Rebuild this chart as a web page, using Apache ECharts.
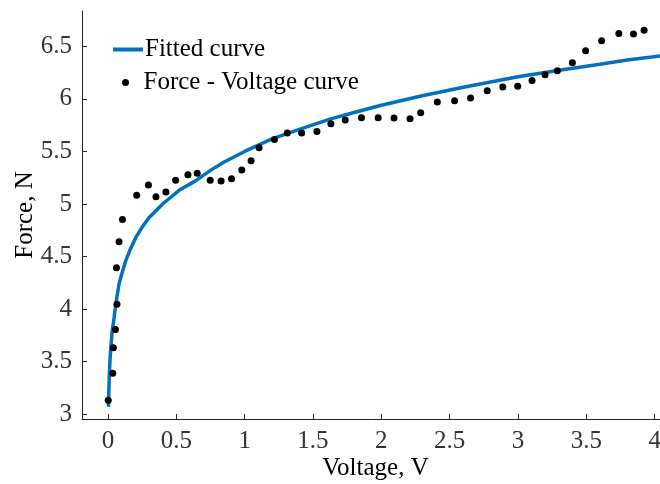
<!DOCTYPE html>
<html>
<head>
<meta charset="utf-8">
<script src="https://cdn.jsdelivr.net/npm/echarts@6/dist/echarts.min.js"></script>
<style>
  html, body { margin: 0; padding: 0; background: #fff; }
  #echarts_main { width: 660px; height: 484px; }
</style>
</head>
<body>
<div id="echarts_main"></div>
<script>
var voltage = [0.002, 0.035, 0.040, 0.055, 0.066, 0.062, 0.081, 0.106, 0.210, 0.296,
    0.351, 0.424, 0.495, 0.585, 0.653, 0.748, 0.828, 0.904, 0.979, 1.047,
    1.106, 1.218, 1.312, 1.417, 1.529, 1.631, 1.736, 1.855, 1.977, 2.093,
    2.210, 2.288, 2.410, 2.536, 2.653, 2.775, 2.889, 2.998, 3.103, 3.198,
    3.288, 3.398, 3.495, 3.612, 3.738, 3.845, 3.923];
var force = [3.133, 3.389, 3.633, 3.807, 4.047, 4.393, 4.640, 4.852, 5.083, 5.181,
    5.070, 5.115, 5.225, 5.279, 5.292, 5.225, 5.219, 5.241, 5.324, 5.412,
    5.536, 5.614, 5.675, 5.675, 5.690, 5.764, 5.800, 5.821, 5.821, 5.818,
    5.811, 5.868, 5.970, 5.983, 6.008, 6.077, 6.112, 6.121, 6.175, 6.229,
    6.267, 6.343, 6.457, 6.552, 6.621, 6.618, 6.653];

// fitted curve
var fitVoltage = [0.004, 0.006, 0.008, 0.01, 0.015, 0.02, 0.03, 0.045, 0.06, 0.081,
    0.1, 0.13, 0.16, 0.203, 0.25, 0.3, 0.4, 0.52, 0.64, 0.75,
    0.85, 1.0, 1.2, 1.4, 1.63, 1.8, 2.0, 2.3, 2.6, 3.0,
    3.29, 3.6, 3.8, 4.05, 4.11];
var fitForce = [3.07, 3.19, 3.29, 3.37, 3.52, 3.62, 3.78, 3.92, 4.07, 4.24,
    4.33, 4.46, 4.56, 4.68, 4.78, 4.87, 5.00, 5.13, 5.22, 5.32,
    5.40, 5.50, 5.62, 5.71, 5.81, 5.87, 5.94, 6.03, 6.11, 6.21,
    6.27, 6.33, 6.37, 6.41, 6.42];

var xTicks = [0, 0.5, 1, 1.5, 2, 2.5, 3, 3.5, 4];
var yTicks = [3, 3.5, 4, 4.5, 5, 5.5, 6, 6.5];

function pairs(xs, ys) {
    var out = [];
    for (var i = 0; i < xs.length; i++) {
        out.push([xs[i], ys[i]]);
    }
    return out;
}

var font = 'Liberation Serif';
var axisColor = '#262626';

function legendText(shift) {
    return {
        fontFamily: font,
        fontSize: 25,
        color: '#000',
        padding: [0, 0, 0, shift]
    };
}

myChart = echarts.init(document.getElementById('echarts_main'), null, {renderer: 'canvas'});
myChart.setOption(option = {
    backgroundColor: '#fff',
    animation: false,
    grid: {
        left: 82,
        right: -9,
        top: 11,
        bottom: 65,
        outerBoundsMode: 'none'
    },
    legend: [
        {
            // line-only key; the marker is smaller than the line width
            left: 106,
            top: 32,
            itemWidth: 30,
            itemHeight: 4,
            data: ['Fitted curve'],
            lineStyle: {width: 4},
            textStyle: legendText(-3)
        },
        {
            left: 117,
            top: 65,
            itemWidth: 30,
            itemHeight: 7,
            data: ['Force - Voltage curve'],
            textStyle: legendText(-2)
        }
    ],
    xAxis: {
        type: 'value',
        min: -0.19,
        max: 4.105,
        name: 'Voltage, V',
        nameLocation: 'middle',
        nameGap: 37,
        nameMoveOverlap: false,
        nameTextStyle: {fontFamily: font, fontSize: 25, color: '#000'},
        splitLine: {show: false},
        axisLine: {onZero: false, lineStyle: {color: axisColor, width: 1}},
        axisTick: {
            inside: true,
            length: 5,
            customValues: xTicks,
            lineStyle: {color: axisColor}
        },
        axisLabel: {
            customValues: xTicks,
            margin: 10,
            fontFamily: font,
            fontSize: 25,
            color: '#333'
        }
    },
    yAxis: {
        type: 'value',
        min: 2.955,
        max: 6.836,
        name: 'Force, N',
        nameLocation: 'middle',
        nameGap: 44,
        nameMoveOverlap: false,
        nameTextStyle: {fontFamily: font, fontSize: 25, color: '#000'},
        splitLine: {show: false},
        axisLine: {show: true, onZero: false, lineStyle: {color: axisColor, width: 1}},
        axisTick: {
            show: true,
            inside: true,
            length: 5,
            customValues: yTicks,
            lineStyle: {color: axisColor}
        },
        axisLabel: {
            customValues: yTicks,
            margin: 10,
            fontFamily: font,
            fontSize: 25,
            color: '#333'
        }
    },
    series: [
        {
            name: 'Fitted curve',
            type: 'line',
            data: pairs(fitVoltage, fitForce),
            showSymbol: false,
            symbol: 'none',
            smooth: false,
            lineStyle: {color: '#0072BD', width: 3.5},
            itemStyle: {color: '#0072BD'},
            z: 2
        },
        {
            name: 'Force - Voltage curve',
            type: 'scatter',
            data: pairs(voltage, force),
            symbol: 'circle',
            symbolSize: 7,
            itemStyle: {color: '#000', opacity: 1},
            z: 3
        }
    ]
}, true);
</script>
</body>
</html>
